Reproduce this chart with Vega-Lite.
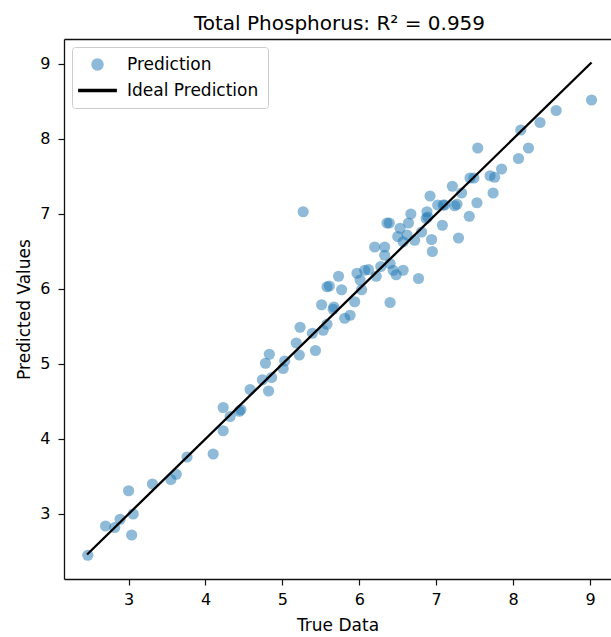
{
  "$schema": "https://vega.github.io/schema/vega-lite/v6.json",
  "width": 547,
  "height": 540,
  "autosize": {"type": "none"},
  "padding": {"left": 64, "top": 39, "right": 0, "bottom": 58},
  "background": "white",
  "config": {
    "view": {"stroke": null},
    "font": "DejaVu Sans",
    "axis": {"grid": false, "domainColor": "#111", "domainWidth": 1.3, "tickColor": "#111", "tickWidth": 1.2, "tickSize": 6, "labelFontSize": 16, "labelColor": "black", "titleFontSize": 17, "titleColor": "black", "titleFontWeight": "normal", "labelFont": "DejaVu Sans", "titleFont": "DejaVu Sans"},
    "legend": {"title": null, "orient": "top-left", "offset": 8, "labelFontSize": 17, "labelFont": "DejaVu Sans", "labelColor": "black", "padding": 9, "cornerRadius": 3, "strokeColor": "#cccccc", "fillColor": "rgba(255,255,255,0.8)", "rowPadding": 8, "symbolOffset": 8, "labelOffset": 21, "symbolSize": 120}
  },
  "title": {"text": "Total Phosphorus: R² = 0.959", "fontSize": 20, "font": "DejaVu Sans", "fontWeight": "normal", "anchor": "middle", "baseline": "alphabetic", "offset": -11, "color": "black", "dx": 2},
  "data": {"values": [
    {"t": 2.47, "p": 2.45, "s": "Prediction"},
    {"t": 2.70, "p": 2.84, "s": "Prediction"},
    {"t": 2.82, "p": 2.82, "s": "Prediction"},
    {"t": 2.89, "p": 2.93, "s": "Prediction"},
    {"t": 3.00, "p": 3.31, "s": "Prediction"},
    {"t": 3.06, "p": 3.00, "s": "Prediction"},
    {"t": 3.04, "p": 2.72, "s": "Prediction"},
    {"t": 3.31, "p": 3.40, "s": "Prediction"},
    {"t": 3.55, "p": 3.46, "s": "Prediction"},
    {"t": 3.62, "p": 3.53, "s": "Prediction"},
    {"t": 3.76, "p": 3.76, "s": "Prediction"},
    {"t": 4.10, "p": 3.80, "s": "Prediction"},
    {"t": 4.23, "p": 4.11, "s": "Prediction"},
    {"t": 4.23, "p": 4.42, "s": "Prediction"},
    {"t": 4.32, "p": 4.30, "s": "Prediction"},
    {"t": 4.44, "p": 4.37, "s": "Prediction"},
    {"t": 4.46, "p": 4.39, "s": "Prediction"},
    {"t": 4.58, "p": 4.66, "s": "Prediction"},
    {"t": 4.74, "p": 4.79, "s": "Prediction"},
    {"t": 4.82, "p": 4.64, "s": "Prediction"},
    {"t": 4.86, "p": 4.82, "s": "Prediction"},
    {"t": 4.78, "p": 5.01, "s": "Prediction"},
    {"t": 4.83, "p": 5.13, "s": "Prediction"},
    {"t": 5.01, "p": 4.94, "s": "Prediction"},
    {"t": 5.03, "p": 5.04, "s": "Prediction"},
    {"t": 5.18, "p": 5.28, "s": "Prediction"},
    {"t": 5.22, "p": 5.12, "s": "Prediction"},
    {"t": 5.23, "p": 5.49, "s": "Prediction"},
    {"t": 5.43, "p": 5.18, "s": "Prediction"},
    {"t": 5.39, "p": 5.41, "s": "Prediction"},
    {"t": 5.53, "p": 5.45, "s": "Prediction"},
    {"t": 5.58, "p": 5.53, "s": "Prediction"},
    {"t": 5.27, "p": 7.03, "s": "Prediction"},
    {"t": 5.51, "p": 5.79, "s": "Prediction"},
    {"t": 5.58, "p": 6.03, "s": "Prediction"},
    {"t": 5.61, "p": 6.04, "s": "Prediction"},
    {"t": 5.73, "p": 6.17, "s": "Prediction"},
    {"t": 5.77, "p": 5.99, "s": "Prediction"},
    {"t": 5.67, "p": 5.76, "s": "Prediction"},
    {"t": 5.66, "p": 5.73, "s": "Prediction"},
    {"t": 5.81, "p": 5.61, "s": "Prediction"},
    {"t": 5.88, "p": 5.65, "s": "Prediction"},
    {"t": 5.94, "p": 5.83, "s": "Prediction"},
    {"t": 5.97, "p": 6.21, "s": "Prediction"},
    {"t": 6.03, "p": 5.99, "s": "Prediction"},
    {"t": 6.01, "p": 6.12, "s": "Prediction"},
    {"t": 6.07, "p": 6.25, "s": "Prediction"},
    {"t": 6.12, "p": 6.26, "s": "Prediction"},
    {"t": 6.22, "p": 6.17, "s": "Prediction"},
    {"t": 6.20, "p": 6.56, "s": "Prediction"},
    {"t": 6.33, "p": 6.56, "s": "Prediction"},
    {"t": 6.33, "p": 6.45, "s": "Prediction"},
    {"t": 6.40, "p": 6.34, "s": "Prediction"},
    {"t": 6.44, "p": 6.25, "s": "Prediction"},
    {"t": 6.48, "p": 6.19, "s": "Prediction"},
    {"t": 6.57, "p": 6.25, "s": "Prediction"},
    {"t": 6.40, "p": 5.82, "s": "Prediction"},
    {"t": 6.77, "p": 6.14, "s": "Prediction"},
    {"t": 6.36, "p": 6.88, "s": "Prediction"},
    {"t": 6.39, "p": 6.88, "s": "Prediction"},
    {"t": 6.53, "p": 6.81, "s": "Prediction"},
    {"t": 6.64, "p": 6.88, "s": "Prediction"},
    {"t": 6.67, "p": 7.00, "s": "Prediction"},
    {"t": 6.57, "p": 6.63, "s": "Prediction"},
    {"t": 6.62, "p": 6.72, "s": "Prediction"},
    {"t": 6.72, "p": 6.65, "s": "Prediction"},
    {"t": 6.81, "p": 6.76, "s": "Prediction"},
    {"t": 6.88, "p": 7.03, "s": "Prediction"},
    {"t": 6.87, "p": 6.94, "s": "Prediction"},
    {"t": 6.92, "p": 7.24, "s": "Prediction"},
    {"t": 6.94, "p": 6.66, "s": "Prediction"},
    {"t": 6.95, "p": 6.50, "s": "Prediction"},
    {"t": 7.08, "p": 6.85, "s": "Prediction"},
    {"t": 7.09, "p": 7.12, "s": "Prediction"},
    {"t": 7.21, "p": 7.37, "s": "Prediction"},
    {"t": 7.27, "p": 7.13, "s": "Prediction"},
    {"t": 7.29, "p": 6.68, "s": "Prediction"},
    {"t": 7.02, "p": 7.12, "s": "Prediction"},
    {"t": 6.89, "p": 6.96, "s": "Prediction"},
    {"t": 6.50, "p": 6.70, "s": "Prediction"},
    {"t": 6.28, "p": 6.30, "s": "Prediction"},
    {"t": 9.02, "p": 8.52, "s": "Prediction"},
    {"t": 8.56, "p": 8.38, "s": "Prediction"},
    {"t": 8.35, "p": 8.22, "s": "Prediction"},
    {"t": 8.10, "p": 8.12, "s": "Prediction"},
    {"t": 8.20, "p": 7.88, "s": "Prediction"},
    {"t": 8.07, "p": 7.74, "s": "Prediction"},
    {"t": 7.54, "p": 7.88, "s": "Prediction"},
    {"t": 7.85, "p": 7.60, "s": "Prediction"},
    {"t": 7.70, "p": 7.51, "s": "Prediction"},
    {"t": 7.76, "p": 7.49, "s": "Prediction"},
    {"t": 7.44, "p": 7.48, "s": "Prediction"},
    {"t": 7.49, "p": 7.48, "s": "Prediction"},
    {"t": 7.74, "p": 7.28, "s": "Prediction"},
    {"t": 7.53, "p": 7.15, "s": "Prediction"},
    {"t": 7.43, "p": 6.97, "s": "Prediction"},
    {"t": 7.33, "p": 7.28, "s": "Prediction"},
    {"t": 7.24, "p": 7.11, "s": "Prediction"},
    {"t": 7.11, "p": 7.12, "s": "Prediction"},
    {"t": 2.46, "p": 2.46, "s": "Ideal Prediction"},
    {"t": 9.02, "p": 9.02, "s": "Ideal Prediction"}
  ]},
  "resolve": {"axis": {"x": "independent"}},
  "layer": [
    {
      "transform": [{"filter": "datum.s === 'Prediction'"}],
      "mark": {"type": "point", "filled": true, "size": 125, "strokeWidth": 0},
      "encoding": {
        "x": {"field": "t", "type": "quantitative", "scale": {"domain": [2.16, 9.273], "nice": false, "zero": false}, "axis": {"title": "True Data", "values": [3, 4, 5, 6, 7, 8, 9], "format": "d", "labelPadding": 6, "titlePadding": 10}},
        "y": {"field": "p", "type": "quantitative", "scale": {"domain": [2.133, 9.333], "nice": false, "zero": false}, "axis": {"title": "Predicted Values", "values": [3, 4, 5, 6, 7, 8, 9], "format": "d", "labelPadding": 8, "titlePadding": 6}},
        "color": {"field": "s", "type": "nominal", "scale": {"domain": ["Prediction", "Ideal Prediction"], "range": ["#1f77b4", "#000000"]}, "legend": {"title": null}},
        "shape": {"field": "s", "type": "nominal", "scale": {"domain": ["Prediction", "Ideal Prediction"], "range": ["circle", "M-3.4,-0.2H3.4V0.2H-3.4Z"]}, "legend": {"title": null}},
        "opacity": {"field": "s", "type": "ordinal", "scale": {"type": "ordinal", "domain": ["Prediction", "Ideal Prediction"], "range": [0.5, 1]}, "legend": {"title": null}}
      }
    },
    {
      "transform": [{"filter": "datum.s === 'Ideal Prediction'"}],
      "mark": {"type": "line", "strokeWidth": 2.3},
      "encoding": {
        "x": {"field": "t", "type": "quantitative", "axis": {"orient": "top", "labels": false, "ticks": false, "title": null, "domain": true, "minExtent": 0, "maxExtent": 0}},
        "y": {"field": "p", "type": "quantitative"},
        "color": {"field": "s", "type": "nominal", "legend": null}
      }
    }
  ]
}
